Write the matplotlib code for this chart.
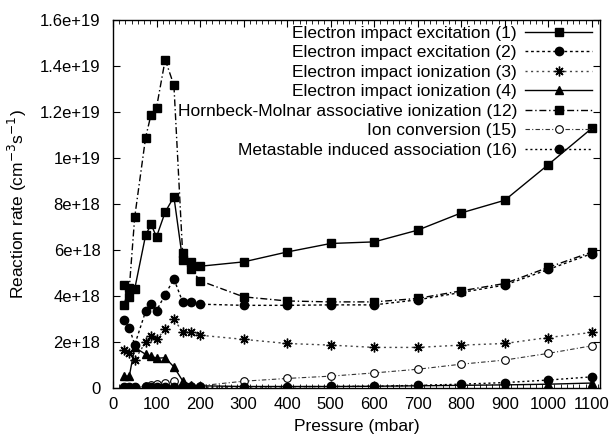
import matplotlib
matplotlib.use("Agg")
import matplotlib.pyplot as plt
import numpy as np
from matplotlib.ticker import FixedLocator, MultipleLocator

plt.rcParams['font.family'] = ['Liberation Sans', 'DejaVu Sans']

pressure = [25, 37.5, 50, 75, 87.5, 100, 120, 140, 160, 180, 200,
            300, 400, 500, 600, 700, 800, 900, 1000, 1100]

exc1 = [4.46, 3.95, 4.3, 6.63, 7.1, 6.56, 7.64, 8.3, 5.55, 5.47, 5.28,
        5.47, 5.9, 6.27, 6.34, 6.85, 7.6, 8.15, 9.7, 11.28]
exc2 = [2.93, 2.6, 1.87, 3.32, 3.65, 3.35, 4.05, 4.73, 3.73, 3.73, 3.63,
        3.58, 3.58, 3.6, 3.6, 3.82, 4.14, 4.46, 5.14, 5.83]
ion3 = [1.63, 1.49, 1.2, 1.99, 2.24, 2.1, 2.53, 2.97, 2.43, 2.43, 2.28,
        2.1, 1.92, 1.85, 1.75, 1.75, 1.85, 1.92, 2.18, 2.4]
ion4 = [0.5, 0.5, 1.75, 1.45, 1.37, 1.28, 1.3, 0.9, 0.3, 0.1, 0.08,
        0.05, 0.05, 0.05, 0.06, 0.08, 0.1, 0.12, 0.15, 0.2]
hm12 = [3.6, 4.33, 7.43, 10.88, 11.88, 12.18, 14.27, 13.15, 5.85, 5.14, 4.65,
        3.95, 3.77, 3.73, 3.73, 3.88, 4.21, 4.53, 5.23, 5.9]
conv15 = [0.02, 0.02, 0.02, 0.08, 0.1, 0.15, 0.22, 0.27, 0.06, 0.06, 0.08,
          0.28, 0.4, 0.5, 0.64, 0.8, 1.02, 1.2, 1.49, 1.82]
meta16 = [0.01, 0.01, 0.01, 0.01, 0.01, 0.01, 0.01, 0.01, 0.02, 0.02, 0.02,
          0.03, 0.04, 0.05, 0.06, 0.1, 0.15, 0.22, 0.33, 0.47]

labels = ["Electron impact excitation (1)",
          "Electron impact excitation (2)",
          "Electron impact ionization (3)",
          "Electron impact ionization (4)",
          "Hornbeck-Molnar associative ionization (12)",
          "Ion conversion (15)",
          "Metastable induced association (16)"]

yticks = [0, 2e18, 4e18, 6e18, 8e18, 1e19, 1.2e19, 1.4e19, 1.6e19]
ytick_labels = ["0", "2e+18", "4e+18", "6e+18", "8e+18", "1e+19", "1.2e+19", "1.4e+19", "1.6e+19"]
xticks = [0, 100, 200, 300, 400, 500, 600, 700, 800, 900, 1000, 1100]

fig = plt.figure(figsize=(6.14, 4.40), dpi=100)
ax = fig.add_axes([0.184, 0.119, 0.794, 0.836])

scale = 1e18
x = np.array(pressure)
ast = (8, 2, 0)
series = [
    (exc1, dict(color='black', ls='-', lw=1.0, marker='s', ms=5.8, mfc='black', mec='black')),
    (exc2, dict(color='black', ls=(0, (2, 2)), lw=1.0, marker='o', ms=6.0, mfc='black', mec='black')),
    (ion3, dict(color='#444444', ls=(0, (1.5, 2.5)), lw=1.0, marker=ast, ms=7, mec='black', mew=1.0)),
    (ion4, dict(color='black', ls='-', lw=1.0, marker='^', ms=6.0, mfc='black', mec='black')),
    (hm12, dict(color='black', ls=(0, (5, 2, 1, 2)), lw=1.0, marker='s', ms=5.8, mfc='black', mec='black')),
    (conv15, dict(color='#333333', ls=(0, (4, 2, 1, 2)), lw=0.8, marker='o', ms=5.5, mfc='white', mec='black', mew=0.8)),
    (meta16, dict(color='black', ls=(0, (1.5, 2)), lw=1.0, marker='o', ms=6.0, mfc='black', mec='black')),
]
for (vals, kw), lab in zip(series, labels):
    ax.plot(x, np.array(vals) * scale, label=lab, **kw)

ax.set_xlim(0, 1120)
ax.set_ylim(0, 1.6e19)
ax.xaxis.set_major_locator(FixedLocator(xticks))
ax.xaxis.set_minor_locator(MultipleLocator(100 / 7))
ax.set_yticks(yticks)
ax.set_yticklabels(ytick_labels)
ax.tick_params(which='both', direction='in', top=True, right=True, labelsize=12)
ax.tick_params(axis='y', pad=9)
ax.tick_params(axis='x', pad=7)
ax.tick_params(which='major', length=5)
ax.tick_params(which='minor', length=3)
ax.tick_params(axis='y', which='minor', left=False, right=False)
for s in ax.spines.values():
    s.set_linewidth(1.0)

ax.set_xlabel("Pressure (mbar)", fontsize=12.5, labelpad=5)
ax.set_ylabel("Reaction rate (cm$^{-3}$s$^{-1}$)", fontsize=12.5, labelpad=8)

ax_w = 0.794 * 614
ax_h = 0.836 * 440
hx = 1.0 - 8.0 / ax_w
hy = 1.0 - 6.0 / ax_h
leg = ax.legend(loc='upper right', bbox_to_anchor=(hx, hy), frameon=False, markerfirst=False,
                fontsize=12.5, handlelength=3.9, labelspacing=0.25, borderaxespad=0.0,
                handletextpad=0.45, numpoints=1, borderpad=0.0)
for t in leg.get_texts():
    t.set_ha('right')

fig.savefig("out.png", dpi=100)
